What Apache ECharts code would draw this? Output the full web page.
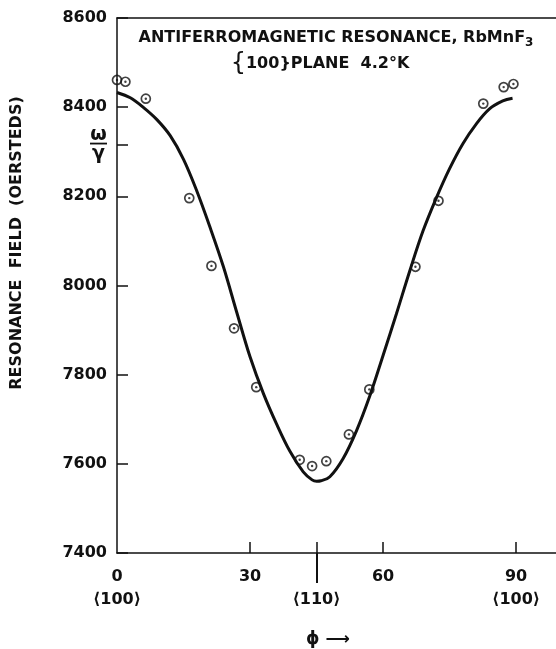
<!DOCTYPE html>
<html>
<head>
<meta charset="utf-8">
<script src="https://cdn.jsdelivr.net/npm/echarts@6/dist/echarts.min.js"></script>
<style>html,body{margin:0;padding:0;background:#fff}#c{width:556px;height:649px}</style>
</head>
<body>
<div id="c"></div>
<script>
// ---- data ----
const pointPhi = [0, 1.9, 6.5, 16.3, 21.3, 26.4, 31.4, 41.2, 44.0, 47.2, 52.3, 56.9, 67.3, 72.5, 82.6, 87.2, 89.4];
const pointField = [8461, 8457, 8419, 8196, 8044, 7904, 7772, 7609, 7595, 7606, 7666, 7767, 8042, 8190, 8408, 8445, 8452];
const curvePhi = [0, 3, 6, 9, 12, 15, 18, 21, 24, 27, 30, 33, 36, 39, 42, 44, 45, 46, 48, 51, 54, 57, 60, 63, 66, 69, 72, 75, 78, 81, 84, 87, 89.2];
const curveField = [8433, 8421, 8399, 8372, 8336, 8283, 8212, 8130, 8042, 7940, 7840, 7758, 7689, 7628, 7582, 7564, 7561, 7562, 7571, 7612, 7674, 7752, 7843, 7936, 8032, 8122, 8196, 8262, 8318, 8362, 8396, 8414, 8420];
const xTickValues = [0, 30, 45, 60, 90];
const xTickLabels = ['0\n⟨100⟩', '30', '\n⟨110⟩', '60', '90\n⟨100⟩'];
const yTickValues = [7400, 7600, 7800, 8000, 8200, 8400, 8600];
const omegaLevel = 8315;
const titleLine1 = 'ANTIFERROMAGNETIC RESONANCE, RbMnF';
const titleSub = '3';
const titleLine2 = 'PLANE  4.2°K';
const yName = 'RESONANCE  FIELD  (OERSTEDS)';
const xName = 'ϕ ⟶';

const FONT = 'DejaVu Sans';
const INK = '#111';
const chart = echarts.init(document.getElementById('c'), null, {renderer: 'canvas'});

const option = {
  backgroundColor: '#fff',
  animation: false,
  grid: {left: 117, right: 0, top: 18, bottom: 96},
  xAxis: [
    {
      type: 'value', min: 0, max: 99, position: 'bottom',
      axisLine: {show: true, onZero: false, lineStyle: {color: INK, width: 1.5}},
      axisTick: {show: true, inside: true, length: 11, customValues: [30, 45, 60, 90], lineStyle: {color: INK, width: 1.5}},
      axisLabel: {
        customValues: xTickValues, margin: 12,
        formatter: v => xTickLabels[xTickValues.indexOf(v)] || '',
        fontFamily: FONT, fontSize: 16, fontWeight: 'bold', lineHeight: 23, color: INK
      },
      splitLine: {show: false}
    },
    {
      type: 'value', min: 0, max: 99, position: 'bottom',
      axisLine: {show: false, onZero: false},
      axisTick: {show: true, inside: false, length: 30, customValues: [45], lineStyle: {color: INK, width: 2}},
      axisLabel: {show: false},
      splitLine: {show: false}
    },
    {
      type: 'value', min: 0, max: 99, position: 'top',
      axisLine: {show: true, onZero: false, lineStyle: {color: INK, width: 1.5}},
      axisTick: {show: false}, axisLabel: {show: false}, splitLine: {show: false}
    }
  ],
  yAxis: {
    type: 'value', min: 7400, max: 8600, interval: 200,
    axisLine: {show: true, onZero: false, lineStyle: {color: INK, width: 1.5}},
    axisTick: {show: true, inside: true, length: 11, customValues: yTickValues.concat([omegaLevel]), lineStyle: {color: INK, width: 1.5}},
    axisLabel: {
      customValues: yTickValues.concat([omegaLevel]), margin: 10,
      formatter: v => v === omegaLevel ? '{w|ω}\n{l|}\n{g|γ}' : String(v),
      fontFamily: FONT, fontSize: 16, fontWeight: 'bold', color: INK,
      rich: {
        w: {fontFamily: FONT, fontSize: 19, fontWeight: 'bold', lineHeight: 13, color: INK, align: 'center'},
        l: {width: 17, height: 1.8, backgroundColor: INK, lineHeight: 5, align: 'center'},
        g: {fontFamily: FONT, fontSize: 19, fontWeight: 'bold', lineHeight: 16, color: INK, align: 'center'}
      }
    },
    splitLine: {show: false}
  },
  series: [
    {
      type: 'line', xAxisIndex: 0, yAxisIndex: 0,
      data: curvePhi.map((p, i) => [p, curveField[i]]),
      smooth: 0.35, symbol: 'none',
      lineStyle: {color: INK, width: 3}
    },
    {
      type: 'scatter', xAxisIndex: 0, yAxisIndex: 0,
      data: pointPhi.map((p, i) => [p, pointField[i]]),
      symbol: 'circle', symbolSize: 9,
      itemStyle: {color: 'rgba(255,255,255,0)', borderColor: INK, borderWidth: 1.7}
    },
    {
      type: 'scatter', xAxisIndex: 0, yAxisIndex: 0,
      data: pointPhi.map((p, i) => [p, pointField[i]]),
      symbol: 'circle', symbolSize: 2.4,
      itemStyle: {color: INK}
    }
  ],
  graphic: [
    {
      type: 'text', x: 336, y: 38,
      style: {
        text: titleLine1 + '{s|' + titleSub + '}',
        fontFamily: FONT, fontSize: 16, fontWeight: 'bold', fill: INK, align: 'center', verticalAlign: 'middle',
        rich: {s: {fontFamily: FONT, fontSize: 12, fontWeight: 'bold', fill: INK, padding: [9, 0, 0, 0]}}
      }
    },
    {
      type: 'text', x: 320, y: 64,
      style: {
        text: '{b|{}{n|100}{b|}}{n|' + titleLine2 + '}',
        fontFamily: FONT, fontSize: 16, fontWeight: 'bold', fill: INK, align: 'center', verticalAlign: 'middle',
        rich: {b: {fontFamily: FONT, fontSize: 24, fill: INK}, n: {fontFamily: FONT, fontSize: 16, fontWeight: 'bold', fill: INK}}
      }
    },
    {
      type: 'text', x: 17, y: 243, rotation: Math.PI / 2,
      style: {text: yName, fontFamily: FONT, fontSize: 16, fontWeight: 'bold', fill: INK, align: 'center', verticalAlign: 'middle'}
    },
    {
      type: 'text', x: 328, y: 640,
      style: {text: xName, fontFamily: FONT, fontSize: 17, fontWeight: 'bold', fill: INK, align: 'center', verticalAlign: 'middle'}
    }
  ]
};
chart.setOption(option);
</script>
</body>
</html>
